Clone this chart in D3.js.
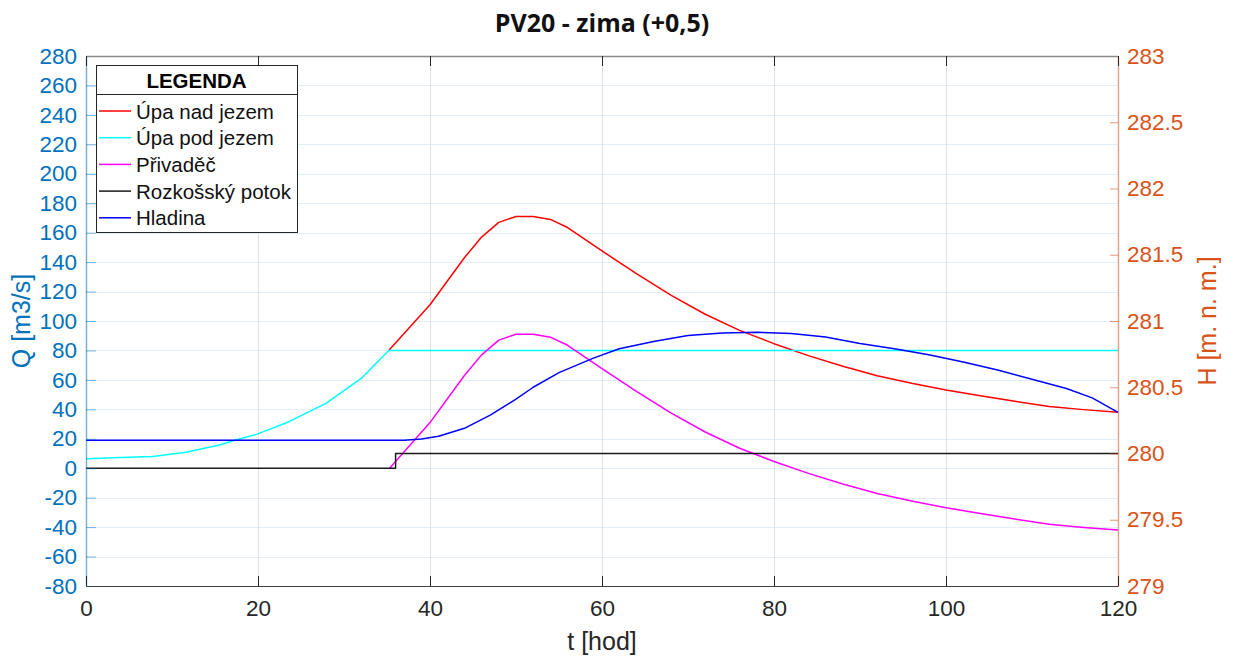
<!DOCTYPE html>
<html>
<head>
<meta charset="utf-8">
<script src="https://cdn.jsdelivr.net/npm/d3@7"></script>
<style>
  html, body { margin: 0; padding: 0; background: #fff; }
  svg { display: block; }
</style>
</head>
<body>
<svg id="chart" width="1235" height="657"></svg>
<script>
// ---------------- DATA ----------------
const title = "PV20 - zima (+0,5)";
const xTicks = [0, 20, 40, 60, 80, 100, 120];
const yLeftTicks = [-80, -60, -40, -20, 0, 20, 40, 60, 80, 100, 120, 140, 160, 180, 200, 220, 240, 260, 280];
const yRightTicks = [279, 279.5, 280, 280.5, 281, 281.5, 282, 282.5, 283];
const legendLabels = ["Úpa nad jezem", "Úpa pod jezem", "Přivaděč", "Rozkošský potok", "Hladina"];

// Úpa nad jezem (red)
const upaNadT = [35.2, 40, 44, 46, 48, 50, 52, 54, 56, 60, 64, 68, 72, 76, 80, 84, 88, 92, 96, 100, 104, 108, 112, 116, 120];
const upaNadQ = [80, 111, 143, 157, 167, 171, 171, 169, 163.5, 147.6, 132.2, 117.6, 104.6, 93.6, 84.6, 76.5, 69.3, 62.8, 57.7, 53.2, 49.3, 45.5, 41.9, 39.8, 38];

// Úpa pod jezem (cyan)
const upaPodT = [0, 4, 7.75, 11.6, 15.5, 17.4, 19.8, 23.6, 27.9, 32, 35.2, 120];
const upaPodQ = [6.5, 7.2, 7.9, 10.8, 15.8, 19.2, 23, 31.6, 44, 61, 80, 80];

// Přivaděč (magenta)
const privadecT = [35.3, 40, 44, 46, 48, 50, 52, 54, 56, 60, 64, 68, 72, 76, 80, 84, 88, 92, 96, 100, 104, 108, 112, 116, 120];
const privadecQ = [0, 31, 63, 77, 87, 91, 91, 89, 83.5, 67.6, 52.2, 37.6, 24.6, 13.6, 4.6, -3.5, -10.7, -17.2, -22.3, -26.8, -30.7, -34.5, -38.1, -40.2, -42];

// Rozkošský potok (black)
const rozkT = [0, 36, 36, 120];
const rozkQ = [0, 0, 10, 10];

// Hladina (blue, right axis)
const hladT = [0, 37, 39, 41, 44, 47, 50, 52, 55, 59, 62, 66, 70, 74, 78, 82, 86, 90, 94, 98, 102, 106, 110, 114, 117, 120];
const hladH = [280.10, 280.10, 280.11, 280.13, 280.19, 280.29, 280.41, 280.50, 280.61, 280.72, 280.79, 280.845, 280.89, 280.91, 280.915, 280.905, 280.88, 280.83, 280.79, 280.745, 280.69, 280.63, 280.56, 280.49, 280.42, 280.31];

// ---------------- LAYOUT ----------------
const svg = d3.select("#chart");
const L = 86, R = 1118, T = 56, B = 586;
const colLeft = "#0072BD", colRight = "#D95319", colAx = "#262626";
const font = "'Liberation Sans', Arial, Helvetica, sans-serif";
const fmt = d => String(d); // plain hyphen minus, no trailing zeros

const x = d3.scaleLinear().domain([0, 120]).range([L, R]);
const yL = d3.scaleLinear().domain([-80, 280]).range([B, T]);
const yR = d3.scaleLinear().domain([279, 283]).range([B, T]);

// grid
const grid = svg.append("g");
grid.selectAll("line.h").data(yLeftTicks).join("line")
  .attr("x1", L).attr("x2", R)
  .attr("y1", d => Math.round(yL(d)) + 0.5).attr("y2", d => Math.round(yL(d)) + 0.5)
  .attr("stroke", "#e3edf6").attr("stroke-width", 1.2);
grid.selectAll("line.v").data(xTicks).join("line")
  .attr("y1", T).attr("y2", B)
  .attr("x1", d => Math.round(x(d)) + 0.5).attr("x2", d => Math.round(x(d)) + 0.5)
  .attr("stroke", "#dde1e6").attr("stroke-width", 1);

// lines
const mk = (xs, ys, ysc) => d3.line().x((d, i) => x(xs[i])).y((d, i) => ysc(ys[i]))(ys);
const series = [
  {t: upaNadT, v: upaNadQ, s: yL, c: "#ff0000"},
  {t: upaPodT, v: upaPodQ, s: yL, c: "#00ffff"},
  {t: privadecT, v: privadecQ, s: yL, c: "#ff00ff"},
  {t: rozkT, v: rozkQ, s: yL, c: "#1a1a1a"},
  {t: hladT, v: hladH, s: yR, c: "#0000ff"}
];
const lg = svg.append("g");
series.forEach(sr => {
  lg.append("path").attr("d", mk(sr.t, sr.v, sr.s))
    .attr("fill", "none").attr("stroke", sr.c).attr("stroke-width", 1.5)
    .attr("stroke-linejoin", "round");
});

// axes
const axL = svg.append("g").attr("transform", `translate(${L},0)`)
  .call(d3.axisLeft(yL).tickValues(yLeftTicks).tickFormat(fmt).tickSizeInner(-10).tickSizeOuter(0).tickPadding(9));
axL.select(".domain").attr("stroke", colLeft).attr("stroke-opacity", 0.45).attr("stroke-width", 1.5);
axL.selectAll(".tick line").attr("stroke", colLeft).attr("stroke-opacity", 0.5);
axL.selectAll("text").attr("fill", colLeft).attr("font-size", "22.5px").attr("font-family", font);

const axR = svg.append("g").attr("transform", `translate(${R},0)`)
  .call(d3.axisRight(yR).tickValues(yRightTicks).tickFormat(fmt).tickSizeInner(-8).tickSizeOuter(0).tickPadding(9));
axR.select(".domain").attr("stroke", colRight).attr("stroke-opacity", 0.45).attr("stroke-width", 1.5);
axR.selectAll(".tick line").attr("stroke", colRight).attr("stroke-opacity", 0.6);
axR.selectAll("text").attr("fill", colRight).attr("font-size", "22.5px").attr("font-family", font);

const axB = svg.append("g").attr("transform", `translate(0,${B})`)
  .call(d3.axisBottom(x).tickValues(xTicks).tickFormat(fmt).tickSizeInner(-10).tickSizeOuter(0).tickPadding(14));
axB.select(".domain").attr("stroke", "#404040").attr("stroke-width", 1.2);
axB.selectAll(".tick line").attr("stroke", colAx);
axB.selectAll("text").attr("fill", colAx).attr("font-size", "22.5px").attr("font-family", font);

const axT = svg.append("g").attr("transform", `translate(0,${T})`)
  .call(d3.axisTop(x).tickValues(xTicks).tickSizeInner(-10).tickSizeOuter(0).tickFormat(""));
axT.select(".domain").attr("stroke", "#8a8a8a").attr("stroke-width", 1.5);
axT.selectAll(".tick line").attr("stroke", colAx);

// axis labels
svg.append("text").attr("x", (L + R) / 2).attr("y", 650).attr("text-anchor", "middle")
  .attr("font-family", font).attr("font-size", "25px").attr("fill", colAx).text("t [hod]");
svg.append("text").attr("transform", `translate(30,${(T + B) / 2}) rotate(-90)`).attr("text-anchor", "middle")
  .attr("font-family", font).attr("font-size", "25px").attr("fill", colLeft).text("Q [m3/s]");
svg.append("text").attr("transform", `translate(1216,${(T + B) / 2}) rotate(-90)`).attr("text-anchor", "middle")
  .attr("font-family", font).attr("font-size", "25px").attr("fill", colRight).text("H [m. n. m.]");

// title
svg.append("text").attr("x", (L + R) / 2).attr("y", 32).attr("text-anchor", "middle")
  .attr("font-family", "'Open Sans', sans-serif").attr("font-weight", "bold").attr("font-size", "25px")
  .attr("fill", "#111").text(title);

// legend
const leg = svg.append("g");
const lx0 = 96, ly0 = 65, lx1 = 297, ly1 = 232;
leg.append("rect").attr("x", lx0 + 0.5).attr("y", ly0 + 0.5).attr("width", lx1 - lx0).attr("height", ly1 - ly0)
  .attr("fill", "#fff").attr("stroke", colAx).attr("stroke-width", 1);
leg.append("line").attr("x1", lx0).attr("x2", lx1).attr("y1", 94.5).attr("y2", 94.5)
  .attr("stroke", colAx).attr("stroke-width", 1);
leg.append("text").attr("x", (lx0 + lx1) / 2).attr("y", 87.5).attr("text-anchor", "middle")
  .attr("font-family", font).attr("font-weight", "bold").attr("font-size", "20.5px").attr("fill", "#000").text("LEGENDA");
legendLabels.forEach((lab, i) => {
  const cy = 111 + i * 26.7;
  leg.append("line").attr("x1", 99).attr("x2", 131).attr("y1", cy).attr("y2", cy)
    .attr("stroke", series[i].c).attr("stroke-width", 1.5);
  leg.append("text").attr("x", 136).attr("y", cy + 7.5)
    .attr("font-family", font).attr("font-size", "20.5px").attr("fill", "#111").text(lab);
});
</script>
</body>
</html>
